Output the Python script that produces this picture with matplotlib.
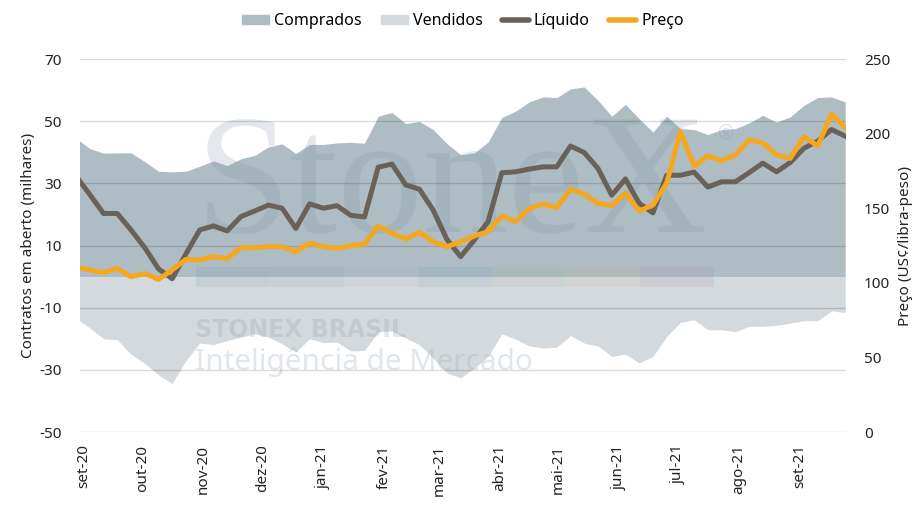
import numpy as np
import pandas as pd
import matplotlib
matplotlib.use("Agg")
import matplotlib.pyplot as plt
from matplotlib.patches import Patch, Rectangle
from matplotlib.lines import Line2D

plt.rcParams['font.family'] = ['Noto Sans', 'DejaVu Sans']
plt.rcParams['axes.unicode_minus'] = False

# dados semanais (sextas-feiras)
datas = pd.date_range('2020-08-28', periods=57, freq='7D')

comprados = [44.5, 41.2, 39.7, 39.8, 39.8, 37.0, 33.9, 33.7, 33.9, 35.5,
             37.2, 35.7, 37.9, 39.0, 41.7, 42.7, 39.6, 42.5, 42.5, 43.0,
             43.2, 42.9, 51.6, 52.8, 49.2, 49.9, 47.3, 42.8, 39.2, 39.8,
             43.3, 51.2, 53.2, 56.2, 57.8, 57.6, 60.4, 61.0, 56.7, 51.6,
             55.4, 50.8, 46.5, 51.6, 47.6, 47.3, 45.7, 47.3, 47.6, 49.4,
             51.9, 49.7, 51.4, 55.1, 57.6, 57.8, 56.2]
vendidos = [-13.5, -16.5, -20.0, -20.3, -25.0, -27.9, -31.6, -34.4, -27.0, -21.4,
            -21.9, -20.6, -19.5, -18.4, -19.5, -21.6, -24.3, -20.0, -21.2, -21.1,
            -23.9, -23.8, -17.7, -17.5, -19.8, -21.9, -26.2, -31.0, -32.6, -29.4,
            -25.7, -18.4, -20.1, -22.3, -23.0, -22.7, -19.0, -21.4, -22.3, -25.7,
            -24.9, -27.8, -25.7, -19.3, -14.7, -13.9, -17.1, -17.1, -17.7, -16.0,
            -16.0, -15.7, -15.0, -14.2, -14.2, -11.0, -11.6]
liquido = [32.3, 26.4, 20.3, 20.3, 15.0, 9.3, 2.5, -0.7, 7.3, 15.0,
           16.3, 14.7, 19.3, 21.1, 23.0, 22.0, 15.5, 23.4, 22.0, 22.8,
           19.7, 19.2, 35.2, 36.2, 29.5, 28.1, 21.4, 12.0, 6.4, 11.8,
           17.7, 33.4, 33.7, 34.6, 35.3, 35.3, 42.0, 39.9, 34.8, 26.2,
           31.4, 23.6, 20.5, 32.6, 32.6, 33.6, 28.8, 30.5, 30.5, 33.4,
           36.5, 33.7, 36.7, 41.3, 43.6, 47.3, 45.2]
preco = [110.5, 108.6, 106.8, 109.7, 104.1, 106.3, 102.3, 108.6, 115.7, 115.3,
         117.5, 116.2, 123.5, 123.5, 124.2, 124.2, 120.9, 126.5, 124.2, 123.1,
         124.7, 126.0, 138.1, 133.2, 129.4, 133.8, 127.6, 124.2, 127.6, 131.4,
         134.3, 144.8, 141.0, 149.9, 152.8, 150.4, 162.6, 159.5, 153.3, 151.7,
         160.0, 148.1, 152.1, 166.7, 201.3, 178.3, 185.0, 181.9, 185.7, 195.7,
         193.9, 185.7, 183.4, 197.9, 191.7, 213.1, 204.2]

meses = pd.date_range('2020-09-01', periods=13, freq='MS')
rotulos = ['set-20', 'out-20', 'nov-20', 'dez-20', 'jan-21', 'fev-21', 'mar-21',
           'abr-21', 'mai-21', 'jun-21', 'jul-21', 'ago-21', 'set-21']

c_comp = '#aebdc4'
c_vend = '#d4d9dd'
c_liq = '#6a6259'
c_prec = '#f5a81f'
c_txt = '#222222'

fig = plt.figure(figsize=(9.22, 5.29), dpi=100)
ax1 = fig.add_axes([80/922, 1-432/529, 766/922, 373/529])
ax2 = ax1.twinx()

ax1.fill_between(datas, 0, comprados, color=c_comp, lw=0, zorder=1)
ax1.fill_between(datas, vendidos, 0, color=c_vend, lw=0, zorder=1)

# marca d'agua
wm = '#7b90a0'
ax1.text(196/922, 1-232/529, 'StoneX', transform=fig.transFigure, family='Liberation Serif',
         fontsize=123, color=wm, alpha=0.2, va='baseline', ha='left', zorder=2)
ax1.text(718/922, 1-134/529, '®', transform=fig.transFigure, fontsize=14,
         color=wm, alpha=0.22, va='center', ha='left', zorder=2)
tiras = ['#3c6a92', '#4f7ea6', '#8fb0c8', '#2e8090', '#7f9f5c', '#c8a66a', '#8e5c8e']
for i, c in enumerate(tiras):
    ax1.add_artist(Rectangle((196/922 + i*74/922, 1-287/529), 74/922, 20/529,
                             transform=fig.transFigure, color=c, alpha=0.09, lw=0, zorder=2))
ax1.text(195/922, 1-337/529, 'STONEX BRASIL', transform=fig.transFigure, fontsize=17,
         family='DejaVu Sans', fontweight='bold', color='#8a949c', alpha=0.22,
         va='baseline', ha='left', zorder=2)
ax1.text(195/922, 1-370/529, 'Inteligência de Mercado', transform=fig.transFigure, fontsize=21.5,
         fontweight='light', color='#a8b8c6', alpha=0.35, va='baseline',
         ha='left', zorder=2)

ax1.plot(datas, liquido, color=c_liq, lw=3.6, zorder=4)
ax2.plot(datas, preco, color=c_prec, lw=3.6, zorder=4)

ax1.set_ylim(-50, 70)
ax1.set_yticks(range(-50, 71, 20))
ax2.set_ylim(0, 250)
ax2.set_yticks(range(0, 251, 50))
ax1.set_xlim(pd.Timestamp('2020-08-30'), pd.Timestamp('2021-09-24 10:00'))
ax1.set_xticks(meses)
ax1.set_xticklabels(rotulos, rotation=90)

ax1.set_axisbelow(False)
ax1.grid(axis='y', color='k', alpha=0.14, lw=1)
ax1.grid(axis='x', visible=False)

for ax in (ax1, ax2):
    for s in ax.spines.values():
        s.set_visible(False)
ax1.tick_params(axis='y', length=0, pad=13, labelsize=11, labelcolor=c_txt)
ax1.tick_params(axis='x', length=0, pad=9, labelsize=11, labelcolor=c_txt)
ax2.tick_params(axis='y', length=0, pad=13, labelsize=11, labelcolor=c_txt)

ax1.set_ylabel('Contratos em aberto (milhares)', fontsize=11, color=c_txt)
ax1.yaxis.set_label_coords(-0.057, 0.5)
ax2.set_ylabel('Preço (US¢/libra-peso)', fontsize=11, color=c_txt)
ax2.yaxis.set_label_coords(1.068, 0.5)

handles = [Patch(color=c_comp), Patch(color=c_vend),
           Line2D([], [], color=c_liq, lw=4, solid_capstyle='round'),
           Line2D([], [], color=c_prec, lw=4, solid_capstyle='round')]
fig.legend(handles, ['Comprados', 'Vendidos', 'Líquido', 'Preço'], loc='center',
           bbox_to_anchor=(463/922, 1-21/529), ncol=4, frameon=False, fontsize=11.5,
           handlelength=1.7, handleheight=0.55, columnspacing=1.2, handletextpad=0.3)

fig.savefig('out.png', dpi=100)
